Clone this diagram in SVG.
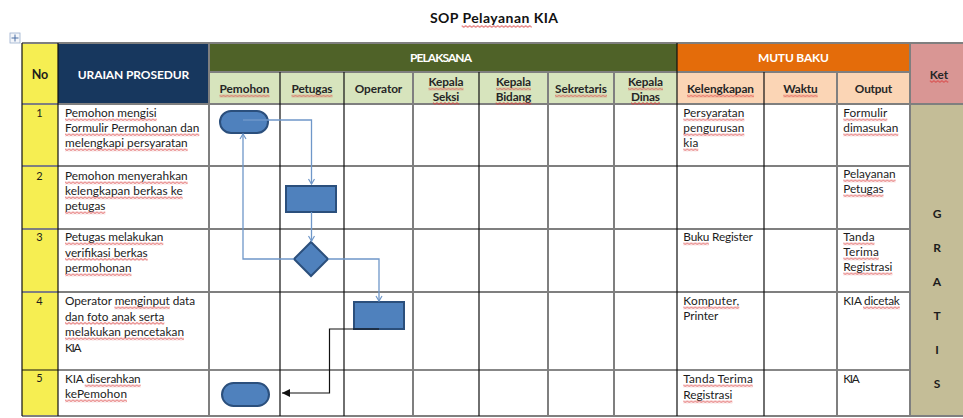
<svg xmlns="http://www.w3.org/2000/svg" width="963" height="418" viewBox="0 0 963 418">
<style>
text{font-family:Lato,"Open Sans","Liberation Sans",sans-serif;}
.t{font-size:11.8px;fill:#1c1c1c;}
.h{font-size:11.8px;font-weight:bold;fill:#262626;text-anchor:middle;}
.hw{font-size:12px;font-weight:bold;fill:#ffffff;text-anchor:middle;}
.n{font-size:11px;fill:#1c1c1c;text-anchor:middle;}
.k{font-size:12px;font-weight:bold;fill:#1c1c1c;text-anchor:middle;}
.w{fill:url(#wave);}
.g{stroke:#7f7f7f;stroke-width:2;fill:none;}
.b{stroke:#111;stroke-width:1.2;fill:none;}
.shape{fill:#4f81bd;stroke:#2b4f7c;stroke-width:2;}
.conn{stroke:#6f97c9;stroke-width:1.3;fill:none;}
.connk{stroke:#111;stroke-width:1.2;fill:none;}
</style>
<defs>
<pattern id="wave" patternUnits="userSpaceOnUse" width="4" height="3">
<path d="M0,0.6 L2,2.4 L4,0.6" fill="none" stroke="#d93a3a" stroke-width="1"/>
</pattern>
<marker id="open" markerUnits="userSpaceOnUse" markerWidth="10" markerHeight="10" refX="8" refY="4" orient="auto">
<path d="M3,1 L8,4 L3,7" fill="none" stroke="#6f97c9" stroke-width="1.2"/>
</marker>
<marker id="solid" markerUnits="userSpaceOnUse" markerWidth="10" markerHeight="10" refX="8" refY="4" orient="auto">
<path d="M0,0 L8,4 L0,8 Z" fill="#111"/>
</marker>
</defs>
<rect width="963" height="418" fill="#ffffff"/>
<g id="title">
<text x="494" y="23" font-size="14" font-weight="bold" fill="#111" text-anchor="middle" textLength="128" lengthAdjust="spacing">SOP Pelayanan KIA</text>
<rect class="w" transform="translate(461.7,25)" width="70" height="3"/>
</g>
<g id="move-icon">
<rect x="10" y="33" width="10" height="10" fill="#f4f6fa" stroke="#9aaecd" stroke-width="0.8"/>
<path d="M15,34.5 V41.5 M11.5,38 H18.5" stroke="#4a6fa5" stroke-width="1"/>
</g>
<g id="table-fills">
<rect x="22" y="43" width="36" height="61" fill="#f6ee52"/>
<rect x="58" y="43" width="151" height="61" fill="#17375e"/>
<rect x="209" y="43" width="468" height="29" fill="#4f6228"/>
<rect x="209" y="72" width="468" height="32" fill="#d7e4bd"/>
<rect x="677" y="43" width="233" height="29" fill="#e46c0a"/>
<rect x="677" y="72" width="233" height="32" fill="#fbd5b5"/>
<rect x="910" y="43" width="53" height="61" fill="#d99694"/>
<rect x="22" y="104" width="36" height="312" fill="#f6ee52"/>
<rect x="910" y="104" width="53" height="312" fill="#c4bd97"/>
</g>
<g id="grid">
<path class="g" d="M22,43 H963 M209,72 H910 M22,104 H963 M22,166 H910 M22,229 H910 M22,292 H910 M22,416 H963"/>
<path class="b" d="M22,370 H910"/>
<path class="b" d="M22,43 V416 M58,43 V416 M280,72 V416 M344,72 V416 M479,72 V416 M677,43 V416 M764,72 V416"/>
<path class="g" d="M209,43 V416 M413,72 V416 M548,72 V416 M614,72 V416 M837,72 V416 M910,43 V416"/>
</g>
<g id="headers">
<text x="40" y="78.5" font-size="12.5" font-weight="bold" fill="#1c1c1c" text-anchor="middle">No</text>
<text class="hw" x="133.5" y="78.5" textLength="111.5" lengthAdjust="spacing">URAIAN PROSEDUR</text>
<text class="hw" x="441" y="61.5" textLength="62" lengthAdjust="spacing">PELAKSANA</text>
<text class="hw" x="793.5" y="61.5" textLength="71" lengthAdjust="spacing">MUTU BAKU</text>
<text class="h" x="939" y="78.5" textLength="18.5" lengthAdjust="spacing">Ket</text>
<text class="h" x="244.5" y="93" textLength="50" lengthAdjust="spacing">Pemohon</text>
<text class="h" x="312" y="93" textLength="41" lengthAdjust="spacing">Petugas</text>
<text class="h" x="378.5" y="93" textLength="47.5" lengthAdjust="spacing">Operator</text>
<text class="h" x="446" y="86" textLength="35" lengthAdjust="spacing">Kepala</text>
<text class="h" x="446" y="100.5" textLength="26.3" lengthAdjust="spacing">Seksi</text>
<text class="h" x="513.5" y="86" textLength="35" lengthAdjust="spacing">Kepala</text>
<text class="h" x="513.5" y="100.5" textLength="35.6" lengthAdjust="spacing">Bidang</text>
<text class="h" x="581" y="93" textLength="52" lengthAdjust="spacing">Sekretaris</text>
<text class="h" x="645.5" y="86" textLength="35" lengthAdjust="spacing">Kepala</text>
<text class="h" x="645.5" y="100.5" textLength="29" lengthAdjust="spacing">Dinas</text>
<text class="h" x="720.5" y="93" textLength="67" lengthAdjust="spacing">Kelengkapan</text>
<text class="h" x="800.5" y="93" textLength="34.4" lengthAdjust="spacing">Waktu</text>
<text class="h" x="873.5" y="93" textLength="37.3" lengthAdjust="spacing">Output</text>
<rect class="w" transform="translate(929.8,80)" width="18.5" height="3"/>
<rect class="w" transform="translate(219.5,94.5)" width="50" height="3"/>
<rect class="w" transform="translate(291.5,94.5)" width="41" height="3"/>
<rect class="w" transform="translate(428.5,87.5)" width="35" height="3"/>
<rect class="w" transform="translate(432.9,102)" width="26.3" height="3"/>
<rect class="w" transform="translate(496,87.5)" width="35" height="3"/>
<rect class="w" transform="translate(495.7,102)" width="35.6" height="3"/>
<rect class="w" transform="translate(555,94.5)" width="52" height="3"/>
<rect class="w" transform="translate(628,87.5)" width="35" height="3"/>
<rect class="w" transform="translate(631,102)" width="29" height="3"/>
<rect class="w" transform="translate(687,94.5)" width="67" height="3"/>
<rect class="w" transform="translate(783.3,94.5)" width="34.4" height="3"/>
</g>
<g id="row1">
<text class="n" x="39.5" y="117">1</text>
<text class="t" x="65" y="117" textLength="91.7" lengthAdjust="spacing">Pemohon mengisi</text>
<text class="t" x="65" y="132" textLength="134.3" lengthAdjust="spacing">Formulir Permohonan dan</text>
<text class="t" x="65" y="147" textLength="122.7" lengthAdjust="spacing">melengkapi persyaratan</text>
<text class="t" x="683.3" y="117" textLength="61" lengthAdjust="spacing">Persyaratan</text>
<text class="t" x="683.3" y="132" textLength="61" lengthAdjust="spacing">pengurusan</text>
<text class="t" x="683.3" y="147" textLength="15" lengthAdjust="spacing">kia</text>
<text class="t" x="843.3" y="117" textLength="44" lengthAdjust="spacing">Formulir</text>
<text class="t" x="843.3" y="132" textLength="55" lengthAdjust="spacing">dimasukan</text>
<rect class="w" transform="translate(65,118.3)" width="91.7" height="3"/>
<rect class="w" transform="translate(65,133.3)" width="134.3" height="3"/>
<rect class="w" transform="translate(65,148.3)" width="122.7" height="3"/>
<rect class="w" transform="translate(683.3,118.3)" width="61" height="3"/>
<rect class="w" transform="translate(683.3,133.3)" width="61" height="3"/>
<rect class="w" transform="translate(683.3,148.3)" width="15" height="3"/>
<rect class="w" transform="translate(843.3,118.3)" width="44" height="3"/>
<rect class="w" transform="translate(843.3,133.3)" width="55" height="3"/>
</g>
<g id="row2">
<text class="n" x="39.5" y="180">2</text>
<text class="t" x="65" y="180" textLength="122.7" lengthAdjust="spacing">Pemohon menyerahkan</text>
<text class="t" x="65" y="195" textLength="117.7" lengthAdjust="spacing">kelengkapan berkas ke</text>
<text class="t" x="65" y="210" textLength="40.3" lengthAdjust="spacing">petugas</text>
<text class="t" x="843.3" y="178" textLength="52.3" lengthAdjust="spacing">Pelayanan</text>
<text class="t" x="843.3" y="193" textLength="40.2" lengthAdjust="spacing">Petugas</text>
<rect class="w" transform="translate(65,181.3)" width="122.7" height="3"/>
<rect class="w" transform="translate(65,196.3)" width="117.7" height="3"/>
<rect class="w" transform="translate(65,211.3)" width="40.3" height="3"/>
<rect class="w" transform="translate(843.3,179.3)" width="52.3" height="3"/>
<rect class="w" transform="translate(843.3,194.3)" width="40.2" height="3"/>
</g>
<g id="row3">
<text class="n" x="39.5" y="241">3</text>
<text class="t" x="65" y="241" textLength="98.3" lengthAdjust="spacing">Petugas melakukan</text>
<text class="t" x="65" y="256.5" textLength="82.7" lengthAdjust="spacing">verifikasi berkas</text>
<text class="t" x="65" y="272" textLength="66.5" lengthAdjust="spacing">permohonan</text>
<text class="t" x="683.3" y="241" textLength="69.6" lengthAdjust="spacing">Buku Register</text>
<text class="t" x="843.3" y="241" textLength="31.2" lengthAdjust="spacing">Tanda</text>
<text class="t" x="843.3" y="256" textLength="35.5" lengthAdjust="spacing">Terima</text>
<text class="t" x="843.3" y="271" textLength="49" lengthAdjust="spacing">Registrasi</text>
<rect class="w" transform="translate(65,242.3)" width="98.3" height="3"/>
<rect class="w" transform="translate(65,257.8)" width="82.7" height="3"/>
<rect class="w" transform="translate(65,273.3)" width="66.5" height="3"/>
<rect class="w" transform="translate(683.3,242.3)" width="25.6" height="3"/>
<rect class="w" transform="translate(843.3,242.3)" width="31.2" height="3"/>
<rect class="w" transform="translate(843.3,257.3)" width="35.5" height="3"/>
<rect class="w" transform="translate(843.3,272.3)" width="49" height="3"/>
</g>
<g id="row4">
<text class="n" x="39.5" y="304.5">4</text>
<text class="t" x="65" y="305" textLength="130" lengthAdjust="spacing">Operator menginput data</text>
<text class="t" x="65" y="320.5" textLength="99.3" lengthAdjust="spacing">dan foto anak serta</text>
<text class="t" x="65" y="336" textLength="119" lengthAdjust="spacing">melakukan pencetakan</text>
<text class="t" x="65" y="351.5" textLength="16.5" lengthAdjust="spacing">KIA</text>
<text class="t" x="683.3" y="305" textLength="56" lengthAdjust="spacing">Komputer,</text>
<text class="t" x="683.3" y="320" textLength="35" lengthAdjust="spacing">Printer</text>
<text class="t" x="843.3" y="305" textLength="56.5" lengthAdjust="spacing">KIA dicetak</text>
<rect class="w" transform="translate(114.4,306.3)" width="55.4" height="3"/>
<rect class="w" transform="translate(65,321.8)" width="99.3" height="3"/>
<rect class="w" transform="translate(65,337.3)" width="119" height="3"/>
<rect class="w" transform="translate(683.3,306.3)" width="56" height="3"/>
<rect class="w" transform="translate(863,306.3)" width="36.8" height="3"/>
</g>
<g id="row5">
<text class="n" x="39.5" y="382">5</text>
<text class="t" x="65" y="383" textLength="75.7" lengthAdjust="spacing">KIA diserahkan</text>
<text class="t" x="65" y="398" textLength="62" lengthAdjust="spacing">kePemohon</text>
<text class="t" x="683.3" y="383" textLength="69.5" lengthAdjust="spacing">Tanda Terima</text>
<text class="t" x="683.3" y="399" textLength="49" lengthAdjust="spacing">Registrasi</text>
<text class="t" x="843.3" y="383" textLength="16.5" lengthAdjust="spacing">KIA</text>
<rect class="w" transform="translate(84.7,384.3)" width="56" height="3"/>
<rect class="w" transform="translate(65,399.3)" width="62" height="3"/>
<rect class="w" transform="translate(683.3,384.3)" width="69.5" height="3"/>
<rect class="w" transform="translate(683.3,400.3)" width="49" height="3"/>
</g>
<g id="ket">
<text class="k" x="937" y="217.5">G</text>
<text class="k" x="937" y="251.5">R</text>
<text class="k" x="937" y="286">A</text>
<text class="k" x="937" y="320">T</text>
<text class="k" x="937" y="354">I</text>
<text class="k" x="937" y="387.5">S</text>
</g>
<g id="node-start">
<rect class="shape" x="220" y="111" width="48" height="22" rx="11"/>
</g>
<g id="node-serah">
<rect class="shape" x="286" y="186" width="50" height="26"/>
</g>
<g id="node-verifikasi">
<path class="shape" d="M311,242 L328,259 L311,276 L294,259 Z"/>
</g>
<g id="node-input">
<rect class="shape" x="354" y="302" width="50" height="27"/>
</g>
<g id="node-end">
<rect class="shape" x="222" y="383" width="47" height="23" rx="11.5"/>
</g>
<g id="connectors">
<path class="conn" d="M243,120 H311.5 V184" marker-end="url(#open)"/>
<path class="conn" d="M311.5,212 V241" marker-end="url(#open)"/>
<path class="conn" d="M294,259 H243 V134" marker-end="url(#open)"/>
<path class="conn" d="M328,259 H379 V301" marker-end="url(#open)"/>
<path class="connk" d="M379,329 H329.5 V393 H282" marker-end="url(#solid)"/>
</g>
</svg>
